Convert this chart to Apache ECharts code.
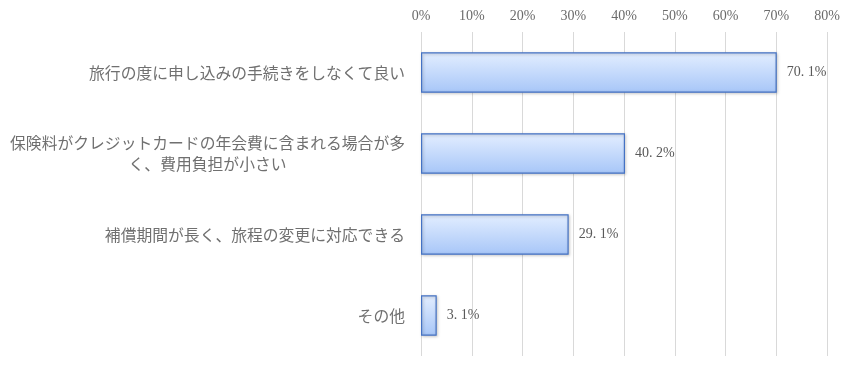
<!DOCTYPE html>
<html><head><meta charset="utf-8">
<script src="https://cdn.jsdelivr.net/npm/echarts@6/dist/echarts.min.js"></script>
<style>html,body{margin:0;padding:0;background:#fff}#c{width:850px;height:383px}</style>
</head><body><div id="c"></div>
<script>
const categories = ['旅行の度に申し込みの手続きをしなくて良い','保険料がクレジットカードの年会費に含まれる場合が多\nく、費用負担が小さい','補償期間が長く、旅程の変更に対応できる','その他'];
const values = [70.1, 40.2, 29.1, 3.1];
const tickLabels = ['0%','10%','20%','30%','40%','50%','60%','70%','80%'];
const chart = echarts.init(document.getElementById('c'));
chart.setOption({
  animation:false,
  grid:{left:421,right:23,top:32,bottom:27,containLabel:false},
  xAxis:{type:'value',position:'top',min:0,max:80,interval:10,
    axisLine:{show:false},axisTick:{show:false},
    axisLabel:{formatter:(v)=>tickLabels[Math.round(v/10)],color:'#6b6b6b',fontFamily:'Liberation Serif',fontSize:14,margin:9},
    splitLine:{lineStyle:{color:'#d9d9d9',width:1}}},
  yAxis:{type:'category',data:categories,inverse:true,
    axisLine:{show:false},axisTick:{show:false},
    axisLabel:{color:'#707070',fontFamily:'Noto Sans CJK JP',fontSize:15.8,margin:16,align:'right',lineHeight:21,
      formatter:(v)=>v.split('\n').map(s=>'{a|'+s+'}').join('\n'),
      rich:{a:{align:'center',color:'#707070',fontFamily:'Noto Sans CJK JP',fontSize:15.8,lineHeight:21}}}},
  series:[{type:'bar',data:values,barWidth:'50%',
    itemStyle:{color:new echarts.graphic.LinearGradient(0,0,0,1,[{offset:0,color:'#e3eeff'},{offset:1,color:'#a7c6f8'}]),
      borderColor:'#4472c4',borderWidth:1.2,shadowColor:'rgba(0,0,0,0.25)',shadowBlur:3,shadowOffsetX:1,shadowOffsetY:1},
    label:{show:true,position:'right',distance:10,color:'#595959',fontFamily:'Liberation Serif',fontSize:14,
      formatter:(p)=>p.value.toFixed(1).replace('.','. ')+'%'}}]
});
</script></body></html>
